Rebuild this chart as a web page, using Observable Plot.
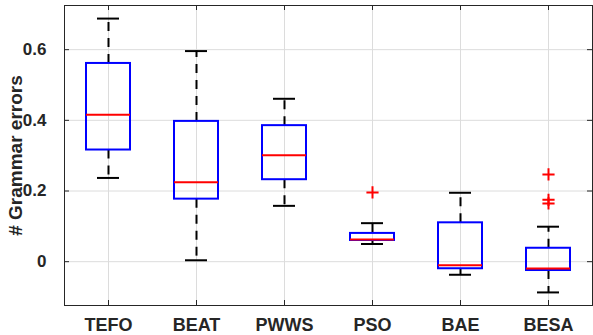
<!DOCTYPE html>
<html><head><meta charset="utf-8">
<script src="https://cdn.jsdelivr.net/npm/d3@7"></script>
<script src="https://cdn.jsdelivr.net/npm/@observablehq/plot@0.6"></script>
<style>body{margin:0;background:#fff}</style>
</head><body><div id="chart"></div>
<script>
const categories = ["TEFO", "BEAT", "PWWS", "PSO", "BAE", "BESA"];
const upperWhisker = [0.688, 0.596, 0.461, 0.109, 0.195, 0.099];
const q3 = [0.561, 0.397, 0.385, 0.080, 0.110, 0.038];
const median = [0.416, 0.225, 0.301, 0.063, -0.010, -0.019];
const q1 = [0.316, 0.177, 0.232, 0.060, -0.020, -0.025];
const lowerWhisker = [0.237, 0.004, 0.158, 0.050, -0.037, -0.087];
const outlierCategories = ["PSO", "BESA", "BESA", "BESA"];
const outlierValues = [0.196, 0.247, 0.175, 0.165];
const yTicks = [0, 0.2, 0.4, 0.6];
const yTickLabels = ["0", "0.2", "0.4", "0.6"];
const yLabel = "# Grammar errors";

const boxes = categories.map((c, i) => ({
  pos: i + 1, name: c,
  lo: lowerWhisker[i], q1: q1[i], med: median[i], q3: q3[i], hi: upperWhisker[i]
}));
const outliers = outlierCategories.map((c, i) => ({pos: categories.indexOf(c) + 1, v: outlierValues[i]}));
const positions = boxes.map(d => d.pos);

const W = 593, H = 335;
const mL = 64, mR = 1, mT = 5, mB = 30;
const innerW = W - mL - mR, innerH = H - mT - mB;
const textColor = "#262626";
const gridColor = "#dcdcdc";
const tick = 5;

const chart = Plot.plot({
  width: W, height: H,
  marginLeft: mL, marginRight: mR, marginTop: mT, marginBottom: mB,
  style: {fontFamily: "'Liberation Sans', Arial, sans-serif", fontWeight: "bold", color: textColor, background: "#fff"},
  x: {type: "linear", domain: [0.5, 6.5]},
  y: {type: "linear", domain: [-0.124, 0.725]},
  marks: [
    // grid
    Plot.ruleX(positions, {x: d => d, stroke: gridColor, strokeWidth: 1}),
    Plot.ruleY(yTicks, {y: d => d, stroke: gridColor, strokeWidth: 1}),
    // inward ticks
    Plot.ruleX(positions, {x: d => d, stroke: textColor, insetTop: innerH - tick}),
    Plot.ruleX(positions, {x: d => d, stroke: textColor, insetBottom: innerH - tick}),
    Plot.ruleY(yTicks, {y: d => d, stroke: textColor, insetRight: innerW - tick}),
    Plot.ruleY(yTicks, {y: d => d, stroke: textColor, insetLeft: innerW - tick}),
    Plot.frame({stroke: textColor, strokeWidth: 1}),
    // whiskers
    Plot.ruleX(boxes, {x: "pos", y1: "q3", y2: "hi", stroke: "#000", strokeWidth: 2, strokeDasharray: "9,7"}),
    Plot.ruleX(boxes, {x: "pos", y1: "q1", y2: "lo", stroke: "#000", strokeWidth: 2, strokeDasharray: "9,7"}),
    Plot.ruleY(boxes, {y: "hi", x1: d => d.pos - 0.125, x2: d => d.pos + 0.125, stroke: "#000", strokeWidth: 2}),
    Plot.ruleY(boxes, {y: "lo", x1: d => d.pos - 0.125, x2: d => d.pos + 0.125, stroke: "#000", strokeWidth: 2}),
    // boxes
    Plot.rect(boxes, {x1: d => d.pos - 0.25, x2: d => d.pos + 0.25, y1: "q1", y2: "q3", fill: "none", stroke: "#0000ff", strokeWidth: 2}),
    Plot.ruleY(boxes, {y: "med", x1: d => d.pos - 0.25, x2: d => d.pos + 0.25, stroke: "#ff0000", strokeWidth: 2}),
    // outliers
    Plot.dot(outliers, {x: "pos", y: "v", symbol: "plus", r: 4, stroke: "#ff0000", strokeWidth: 2}),
    // axes
    Plot.axisX(positions, {x: d => d, tickSize: 0, tickPadding: 13, fontSize: 18, fontWeight: "bold", fill: textColor,
      tickFormat: d => categories[d - 1], label: null}),
    Plot.axisY(yTicks, {y: d => d, tickSize: 0, tickPadding: 18, fontSize: 17, fontWeight: "bold", fill: textColor,
      tickFormat: (d, i) => yTickLabels[yTicks.indexOf(d)], label: null}),
    Plot.text([yLabel], {text: d => d, frameAnchor: "left", textAnchor: "middle", lineAnchor: "middle", dx: -49, rotate: -90, fontSize: 19, fontWeight: "bold", fill: textColor})
  ]
});
document.getElementById("chart").appendChild(chart);
</script>
</body></html>
